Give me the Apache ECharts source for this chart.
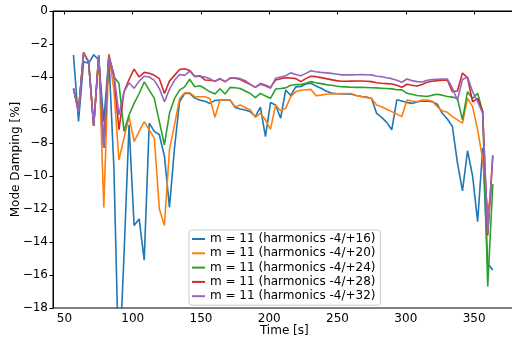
<!DOCTYPE html>
<html>
<head>
<meta charset="utf-8">
<script src="https://cdn.jsdelivr.net/npm/echarts@6/dist/echarts.min.js"></script>
<style>html,body{margin:0;padding:0;background:#fff}#c{width:512px;height:339px}</style>
</head>
<body>
<div id="c"></div>
<script>
const times = [56.6, 60.3, 64.0, 67.7, 71.4, 75.1, 78.8, 82.5, 86.2, 89.9, 93.6, 97.3, 101.0, 104.7, 108.4, 112.1, 115.8, 119.5, 123.2, 126.9, 130.6, 134.3, 138.0, 141.7, 145.4, 149.1, 152.8, 156.5, 160.2, 163.9, 167.6, 171.3, 175.0, 178.7, 182.4, 186.1, 189.8, 193.5, 197.2, 200.9, 204.6, 208.3, 212.0, 215.7, 219.4, 223.1, 226.8, 230.5, 234.2, 237.9, 241.6, 245.3, 249.0, 252.7, 256.4, 260.1, 263.8, 267.5, 271.2, 274.9, 278.6, 282.3, 286.0, 289.7, 293.4, 297.1, 300.8, 304.5, 308.2, 311.9, 315.6, 319.3, 323.0, 326.7, 330.4, 334.1, 337.8, 341.5, 345.2, 348.9, 352.6, 356.3, 360.0, 363.7];

const m16 = [-2.67, -6.7, -3.07, -3.17, -2.65, -2.97, -6.7, -2.77, -9.5, -22, -14.8, -6.9, -13.0, -12.6, -15.1, -6.8, -7.3, -7.5, -8.8, -11.9, -8.3, -5.5, -5.0, -5.0, -5.28, -5.4, -5.47, -5.6, -5.42, -5.4, -5.4, -5.4, -5.85, -5.94, -6.0, -6.1, -6.4, -5.82, -7.62, -5.55, -5.7, -6.5, -4.79, -5.12, -4.6, -4.58, -4.42, -4.38, -4.55, -4.68, -4.85, -4.97, -5.0, -5.02, -5.03, -5.05, -5.12, -5.18, -5.22, -5.3, -6.2, -6.45, -6.75, -7.2, -5.38, -5.45, -5.54, -5.6, -5.52, -5.45, -5.47, -5.5, -5.65, -6.2, -6.55, -7.0, -9.2, -10.9, -8.47, -10.0, -12.77, -8.3, -15.3, -15.7];

const m20 = [-4.7, -6.1, -2.55, -3.1, -6.97, -2.7, -11.9, -2.6, -4.79, -9.03, -7.7, -6.4, -7.92, -7.3, -6.7, -7.2, -7.7, -12.0, -13.0, -8.4, -6.9, -5.3, -4.95, -4.95, -5.19, -5.2, -5.2, -5.3, -6.44, -5.39, -5.39, -5.39, -5.8, -5.7, -5.85, -6.0, -6.44, -6.2, -6.6, -7.17, -5.7, -6.05, -5.9, -5.19, -4.9, -4.8, -4.77, -4.75, -5.13, -5.1, -5.05, -5.03, -5.02, -5.01, -5.0, -5.0, -5.12, -5.19, -5.25, -5.3, -5.7, -5.8, -5.95, -6.1, -6.25, -6.4, -5.39, -5.45, -5.5, -5.4, -5.39, -5.45, -5.8, -6.05, -6.14, -6.4, -6.6, -6.8, -5.3, -5.8, -7.2, -9.0, -12.1, -10.5];

const m24 = [-4.7, -6.1, -2.53, -3.1, -6.97, -2.7, -8.3, -2.7, -3.98, -4.38, -7.3, -6.3, -5.6, -5.0, -4.3, -4.8, -5.3, -6.7, -8.12, -6.2, -5.3, -4.8, -4.6, -4.14, -4.59, -4.53, -4.7, -4.9, -5.03, -4.71, -5.03, -4.63, -4.65, -4.7, -4.85, -5.0, -5.25, -4.99, -5.15, -5.29, -4.73, -4.7, -4.66, -4.5, -4.45, -4.46, -4.38, -4.28, -4.35, -4.4, -4.46, -4.5, -4.55, -4.59, -4.6, -4.62, -4.63, -4.63, -4.64, -4.65, -4.66, -4.68, -4.7, -4.72, -4.77, -4.78, -4.99, -5.05, -5.12, -5.15, -5.18, -5.1, -5.05, -5.1, -5.18, -5.22, -5.3, -6.6, -4.89, -5.3, -4.99, -6.1, -16.7, -10.5];

const m28 = [-4.7, -6.1, -2.5, -3.1, -6.97, -2.7, -8.3, -2.7, -3.9, -7.2, -4.9, -4.15, -3.52, -4.0, -3.72, -3.77, -3.9, -4.1, -5.0, -4.25, -3.9, -3.55, -3.5, -3.6, -3.95, -3.92, -4.18, -4.2, -4.24, -4.12, -4.28, -4.08, -4.08, -4.15, -4.3, -4.45, -4.63, -4.4, -4.5, -4.63, -4.18, -4.1, -4.05, -4.06, -4.1, -4.28, -4.1, -3.95, -3.98, -4.04, -4.1, -4.16, -4.22, -4.26, -4.26, -4.25, -4.24, -4.24, -4.26, -4.28, -4.35, -4.38, -4.4, -4.42, -4.5, -4.62, -4.44, -4.5, -4.55, -4.45, -4.32, -4.26, -4.22, -4.2, -4.18, -4.89, -4.85, -3.76, -4.05, -5.5, -5.3, -6.1, -13.6, -8.8];

const m32 = [-4.7, -6.1, -2.53, -3.1, -6.97, -2.7, -8.3, -2.77, -3.8, -6.3, -4.9, -4.35, -4.68, -4.25, -3.95, -4.0, -4.2, -4.7, -5.5, -4.75, -4.2, -3.85, -3.9, -3.65, -3.98, -3.95, -4.0, -4.1, -4.28, -4.08, -4.3, -4.05, -4.05, -4.1, -4.22, -4.45, -4.63, -4.44, -4.55, -4.68, -4.08, -4.0, -3.92, -3.75, -3.85, -3.92, -3.78, -3.62, -3.68, -3.72, -3.75, -3.78, -3.82, -3.87, -3.87, -3.87, -3.86, -3.85, -3.86, -3.87, -3.95, -3.98, -4.05, -4.1, -4.2, -4.32, -4.12, -4.22, -4.28, -4.3, -4.2, -4.16, -4.14, -4.13, -4.12, -4.68, -5.4, -4.15, -4.0, -4.89, -5.5, -6.2, -13.47, -8.73];

const seriesNames = ['m = 11 (harmonics -4/+16)', 'm = 11 (harmonics -4/+20)', 'm = 11 (harmonics -4/+24)', 'm = 11 (harmonics -4/+28)', 'm = 11 (harmonics -4/+32)'];
const seriesValues = [m16, m20, m24, m28, m32];
const colors = ['#1f77b4', '#ff7f0e', '#2ca02c', '#d62728', '#9467bd'];
const xTicks = [50, 100, 150, 200, 250, 300, 350];

const FONT = 'DejaVu Sans';
const chart = echarts.init(document.getElementById('c'), null, {renderer: 'canvas'});
const option = {
  animation: false,
  color: colors,
  grid: {left: 53, top: 11, width: 462.6, height: 297, show: true, borderColor: '#000', borderWidth: 1,
         backgroundColor: 'transparent', containLabel: false, outerBoundsMode: 'none'},
  legend: {
    orient: 'vertical', left: 189, top: 230,
    itemWidth: 13, itemHeight: 2, itemGap: 2.3, icon: 'rect',
    padding: [3, 5, 3, 3],
    backgroundColor: 'rgba(255,255,255,0.8)', borderColor: '#cccccc', borderWidth: 1, borderRadius: 3,
    textStyle: {fontFamily: FONT, fontSize: 12, color: '#000'},
    data: seriesNames
  },
  xAxis: {
    type: 'value', min: 41.6, max: 380.4,
    name: 'Time [s]', nameLocation: 'middle', nameGap: 17, nameMoveOverlap: false,
    nameTextStyle: {fontFamily: FONT, fontSize: 12, color: '#000'},
    axisLine: {lineStyle: {color: '#000', width: 1}},
    axisTick: {length: 3.5, lineStyle: {color: '#000'}, customValues: xTicks},
    axisLabel: {fontFamily: FONT, fontSize: 12, color: '#000', margin: 5, customValues: xTicks},
    splitLine: {show: false}
  },
  yAxis: {
    type: 'value', min: -18, max: 0, interval: 2,
    name: 'Mode Damping [%]', nameLocation: 'middle', nameGap: 31, nameMoveOverlap: false,
    nameTextStyle: {fontFamily: FONT, fontSize: 12, color: '#000'},
    axisLine: {show: true, lineStyle: {color: '#000', width: 1}},
    axisTick: {show: true, length: 3.5, lineStyle: {color: '#000'}},
    axisLabel: {fontFamily: FONT, fontSize: 12, color: '#000', margin: 5,
      formatter: v => String(v).replace('-', '\u2212')},
    splitLine: {show: false}
  },
  series: seriesValues.map((vals, k) => ({
    name: seriesNames[k], type: 'line', showSymbol: false, symbol: 'none',
    clip: true,
    lineStyle: {width: 1.6, color: colors[k]},
    itemStyle: {color: colors[k]},
    data: times.map((t, i) => [t, vals[i]])
  }))
};
chart.setOption(option);
</script>
</body>
</html>
